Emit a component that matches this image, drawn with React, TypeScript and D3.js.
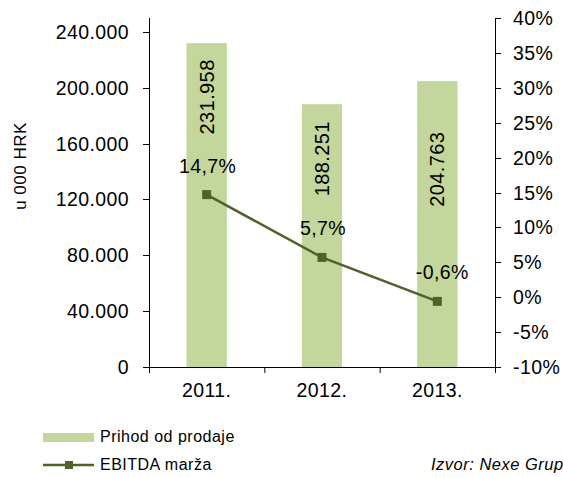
import React from 'react'
import * as d3 from 'd3'

// chart data
const years = ['2011.', '2012.', '2013.']
const revenue = [231958, 188251, 204763]
const ebitdaMargin = [0.147, 0.057, -0.006]
const leftTicks = [0, 40000, 80000, 120000, 160000, 200000, 240000]
const rightTicks = [-0.1, -0.05, 0, 0.05, 0.1, 0.15, 0.2, 0.25, 0.3, 0.35, 0.4]
const seriesNames = ['Prihod od prodaje', 'EBITDA marža']
const yTitle = 'u 000 HRK'
const sourceNote = 'Izvor: Nexe Grupa'

const width = 563
const height = 477
const left = 149
const right = 495
const top = 18
const bottom = 367

const barColor = '#c3d69b'
const lineColor = '#4f6228'
const font = '"Liberation Sans", Arial, sans-serif'

const hr = d3.formatLocale({ decimal: ',', thousands: '.', grouping: [3], currency: ['', ''], minus: '-' })
const fmtThousands = hr.format(',')
const fmtPctAxis = hr.format('.0%')
const fmtPct = hr.format('.1%')

export default function App() {
  const x = d3.scaleBand().domain(years).range([left, right]).padding(0)
  const yLeft = d3.scaleLinear().domain([0, 250000]).range([bottom, top])
  const yRight = d3.scaleLinear().domain([-0.1, 0.4]).range([bottom, top])
  const barW = x.bandwidth() * 0.35
  const cx = (d: string) => (x(d) as number) + x.bandwidth() / 2

  const pts: [number, number][] = years.map((d, i) => [cx(d), yRight(ebitdaMargin[i])])
  const line = d3.line()(pts) || ''
  const lineLabelGap = 22

  const axisText = { fontFamily: font, fontSize: 19.5, letterSpacing: 0.4, fill: '#000' }
  const smallText = { ...axisText, fontSize: 16, letterSpacing: 0.5 }

  return (
    <svg width={width} height={height} style={{ position: 'absolute', left: 0, top: 0, background: '#fff' }}>
      {/* bars */}
      {years.map((d, i) => (
        <rect key={d} x={cx(d) - barW / 2} y={yLeft(revenue[i])} width={barW}
          height={bottom - yLeft(revenue[i])} fill={barColor} />
      ))}

      {/* bar value labels, placed between bar top and the margin label */}
      {years.map((d, i) => {
        const barTop = yLeft(revenue[i])
        const lblTop = pts[i][1] - lineLabelGap - 14
        const mid = (barTop + lblTop) / 2 - 4
        return (
          <text key={d} transform={`translate(${cx(d) + 7},${mid}) rotate(-90)`}
            textAnchor="middle" style={{ ...axisText, fontSize: 20 }}>{fmtThousands(revenue[i])}</text>
        )
      })}

      {/* left axis */}
      <line x1={left + 0.5} x2={left + 0.5} y1={top} y2={bottom} stroke="#000" />
      {leftTicks.map(t => (
        <g key={t}>
          <line x1={left - 6} x2={left} y1={Math.round(yLeft(t)) + 0.5} y2={Math.round(yLeft(t)) + 0.5} stroke="#000" />
          <text x={left - 20} y={yLeft(t) + 7} textAnchor="end" style={axisText}>{fmtThousands(t)}</text>
        </g>
      ))}

      {/* right axis */}
      <line x1={right + 0.5} x2={right + 0.5} y1={top} y2={bottom} stroke="#000" />
      {rightTicks.map(t => (
        <g key={t}>
          <line x1={right} x2={right + 6} y1={Math.round(yRight(t)) + 0.5} y2={Math.round(yRight(t)) + 0.5} stroke="#000" />
          <text x={513} y={yRight(t) + 7} textAnchor="start" style={axisText}>{fmtPctAxis(t)}</text>
        </g>
      ))}

      {/* x axis */}
      <line x1={left} x2={right} y1={bottom + 0.5} y2={bottom + 0.5} stroke="#000" />
      {[...years.map(d => x(d) as number), right].map((v, i) => (
        <line key={i} x1={v + 0.5} x2={v + 0.5} y1={bottom} y2={bottom + 6} stroke="#000" />
      ))}
      {years.map(d => (
        <text key={d} x={cx(d)} y={397} textAnchor="middle" style={axisText}>{d}</text>
      ))}

      {/* y title */}
      <text transform={`translate(26,166) rotate(-90)`} textAnchor="middle"
        style={{ ...smallText, fontSize: 17 }}>{yTitle}</text>

      {/* EBITDA line */}
      <path d={line} fill="none" stroke={lineColor} strokeWidth={2.5} />
      {pts.map((p, i) => (
        <rect key={i} x={p[0] - 4.5} y={p[1] - 4.5} width={9} height={9} fill={lineColor} />
      ))}
      {pts.map((p, i) => (
        <text key={i} x={p[0] + (ebitdaMargin[i] < 0 ? 5 : 1)} y={p[1] - lineLabelGap} textAnchor="middle" style={axisText}>
          {fmtPct(ebitdaMargin[i])}
        </text>
      ))}

      {/* legend */}
      <rect x={43} y={433} width={51} height={9} fill={barColor} />
      <text x={100} y={442} style={smallText}>{seriesNames[0]}</text>
      <line x1={43} x2={94} y1={465} y2={465} stroke={lineColor} strokeWidth={2.5} />
      <rect x={65} y={461} width={8} height={8} fill={lineColor} />
      <text x={100} y={470} style={smallText}>{seriesNames[1]}</text>

      <text x={431} y={470} style={{ ...smallText, fontSize: 16.5, fontStyle: 'italic' }}>{sourceNote}</text>
    </svg>
  )
}
